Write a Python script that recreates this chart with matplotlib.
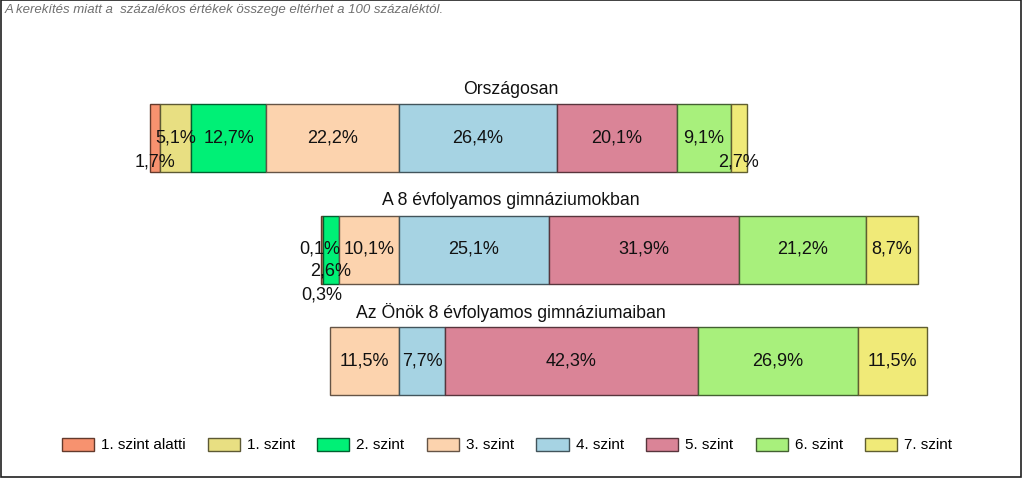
import numpy as np
import matplotlib
matplotlib.use("Agg")
import matplotlib.pyplot as plt
from matplotlib.patches import Patch, Rectangle
from matplotlib import colors as mcolors

plt.rcParams['font.family'] = ['Liberation Sans', 'DejaVu Sans']

groups = ["Országosan", "A 8 évfolyamos gimnáziumokban", "Az Önök 8 évfolyamos gimnáziumaiban"]
levels = ["1. szint alatti", "1. szint", "2. szint", "3. szint",
          "4. szint", "5. szint", "6. szint", "7. szint"]
orszagos = [1.7, 5.1, 12.7, 22.2, 26.4, 20.1, 9.1, 2.7]
gimn8 = [0.3, 0.1, 2.6, 10.1, 25.1, 31.9, 21.2, 8.7]
onok = [0.0, 0.0, 0.0, 11.5, 7.7, 42.3, 26.9, 11.5]
note = "A kerekítés miatt a  százalékos értékek összege eltérhet a 100 százaléktól."

fills = ["#F7926F", "#E8DF82", "#00F076", "#FCD3AE",
         "#A6D3E3", "#DA8497", "#A8F07C", "#F0EA78"]
edges = [tuple(c * 0.4 for c in mcolors.to_rgb(f)) for f in fills]

# label nudges in pixels (row, segment): (dx, dy), dy positive = down
nudges = {(0, 0): (0, 24), (0, 7): (0, 24),
          (1, 0): (0, 45), (1, 1): (-3, 0), (1, 2): (0, 21)}

W, H = 1024, 478
ppu = 5.97          # pixels per percent
x0 = 399            # pixel of 3./4. boundary
row_px = 111.5
top_px = 138

fig = plt.figure(figsize=(W / 100, H / 100), dpi=100)
ax = fig.add_axes([0, 0, 1, 1])
ax.set_xlim(-x0 / ppu, (W - x0) / ppu)
ax.set_ylim((H - top_px) / row_px, -top_px / row_px)
ax.axis("off")

data = [orszagos, gimn8, onok]
bh = 68 / row_px
for r, vals in enumerate(data):
    vals = np.array(vals)
    left = -vals[:4].sum()
    for i, v in enumerate(vals):
        if v > 0:
            ax.barh(r, v, left=left, height=bh, color=fills[i],
                    edgecolor=edges[i], linewidth=1.0)
            dx, dy = nudges.get((r, i), (0, 0))
            ax.text(left + v / 2 + dx / ppu, r + dy / row_px,
                    f"{v:.1f}".replace(".", ",") + "%",
                    ha="center", va="center", fontsize=13, color="#111111")
        left += v
    ax.text(112 / ppu, r - (bh / 2) - 15 / row_px, groups[r],
            ha="center", va="center", fontsize=12.7, color="#111111")

fig.text(5 / W, 1 - 10 / H, note, ha="left", va="center", fontsize=9.5,
         style="italic", color="#707070")

handles = [Patch(facecolor=fills[i], edgecolor=edges[i], label=levels[i]) for i in range(8)]
fig.legend(handles=handles, loc="center", bbox_to_anchor=(507 / W, 1 - 445 / H),
           ncol=8, frameon=False, fontsize=11, handlelength=2.1, handleheight=0.95,
           handletextpad=0.46, columnspacing=1.46)

fig.patches.append(Rectangle((1 / W, 1 / H), 1020 / W, 1 - 1 / H, transform=fig.transFigure,
                             fill=False, edgecolor="#202020", linewidth=1.2))

fig.savefig("out.png", dpi=100)
